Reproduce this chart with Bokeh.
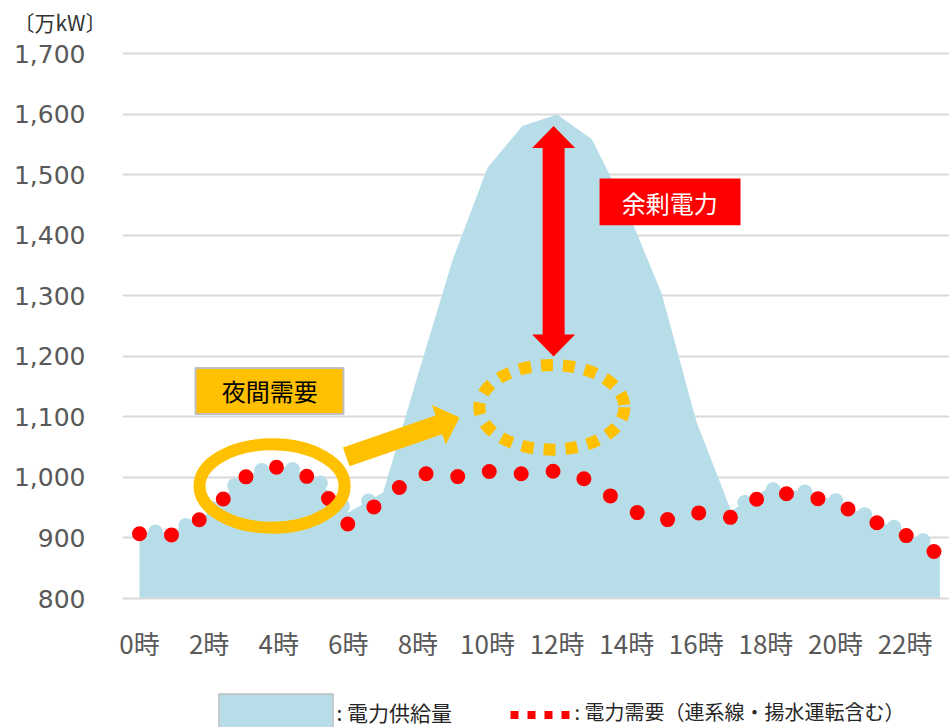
from bokeh.plotting import figure
from bokeh.models import Range1d, FixedTicker, NumeralTickFormatter
from bokeh.layouts import column
from bokeh.embed import file_html
from bokeh.resources import INLINE
from bokeh.core.properties import value

# Hourly supply / demand (万kW)
hours = list(range(24))
supply = [910, 910, 942, 1003, 1020, 1003, 942, 975, 1170, 1360, 1512, 1581,
          1600, 1559, 1444, 1305, 1093, 945, 980, 978, 962, 934, 910, 882]
demand = [907, 905, 940, 1000, 1018, 998, 922, 962, 1008, 1000, 1010, 1006,
          1011, 994, 948, 928, 942, 934, 975, 972, 958, 930, 905, 872]

y_ticks = [800, 900, 1000, 1100, 1200, 1300, 1400, 1500, 1600, 1700]
x_tick_hours = list(range(0, 24, 2))
x_tick_labels = [f"{h}時" for h in x_tick_hours]

unit_text = "〔万kW〕"
supply_name = "電力供給量"
demand_name = "電力需要（連系線・揚水運転含む）"
night_text = "夜間需要"
surplus_text = "余剰電力"

# Callout geometry (hour, 万kW)
night_oval = dict(x=3.81, y=986, w=4.17, h=138)
midday_oval = dict(x=11.85, y=1116, w=4.17, h=140)
night_box = dict(left=1.61, right=5.86, bottom=1105, top=1181, tx=3.74, ty=1143)
surplus_box = dict(left=13.22, right=17.27, bottom=1417, top=1494, tx=15.24, ty=1455)
shift_arrow = dict(tail=(5.94, 1034), tip=(9.2, 1099))
surplus_arrow = dict(x=11.9, top=1581, bottom=1200)

BLUE = "#B7DEE8"
RED = "#FF0000"
GOLD = "#FFC000"
GRID = "#D9D9D9"
TICK_TEXT = "#595959"
JP_FONT = "Noto Sans CJK JP"

# ---- frame layout
W = 949
H_MAIN = 680
FRAME_LEFT = 122
FRAME_TOP = 40
FRAME_BOTTOM = 598
PX_PER_HOUR = 34.8
PX_PER_UNIT = 0.6061
x_start = -17.0 / PX_PER_HOUR
x_end = x_start + (W - FRAME_LEFT) / PX_PER_HOUR
y_start = y_ticks[0]
y_end = y_start + (FRAME_BOTTOM - FRAME_TOP) / PX_PER_UNIT

p = figure(width=W, height=H_MAIN,
           x_range=Range1d(x_start, x_end), y_range=Range1d(y_start, y_end),
           output_backend="svg", toolbar_location=None,
           min_border_left=FRAME_LEFT, min_border_right=0,
           min_border_top=FRAME_TOP, min_border_bottom=H_MAIN - FRAME_BOTTOM)
p.outline_line_color = None
p.background_fill_color = "white"
p.border_fill_color = "white"

# unit caption in the title slot, pulled left over the value axis
p.title.text = unit_text
p.title.align = "left"
p.title.offset = -109
p.title.standoff = 9
p.title.text_font = JP_FONT
p.title.text_font_size = "21px"
p.title.text_font_style = "normal"
p.title.text_color = "#333333"

p.xgrid.visible = False
p.ygrid.ticker = FixedTicker(ticks=y_ticks)
p.ygrid.grid_line_color = GRID
p.ygrid.grid_line_width = 2

yax = p.yaxis[0]
yax.ticker = FixedTicker(ticks=y_ticks)
yax.formatter = NumeralTickFormatter(format="0,0")
yax.axis_line_color = None
yax.major_tick_line_color = None
yax.minor_tick_line_color = None
yax.major_tick_out = 0
yax.major_label_standoff = 37
yax.major_label_text_font = "DejaVu Sans"
yax.major_label_text_font_size = "25px"
yax.major_label_text_color = TICK_TEXT

xax = p.xaxis[0]
xax.ticker = FixedTicker(ticks=x_tick_hours)
xax.major_label_overrides = {h: t for h, t in zip(x_tick_hours, x_tick_labels)}
xax.axis_line_color = GRID
xax.axis_line_width = 2
xax.major_tick_line_color = None
xax.minor_tick_line_color = None
xax.major_tick_out = 0
xax.major_label_standoff = 25
xax.major_label_text_font = JP_FONT
xax.major_label_text_font_size = "26px"
xax.major_label_text_color = TICK_TEXT

# supply area
p.varea(x=hours, y1=y_ticks[0], y2=supply, fill_color=BLUE)

# the supply edge is drawn as a soft dotted outline wherever it runs close to demand
close = [abs(s - d) < 25 for s, d in zip(supply, demand)]
runs, cur = [], []
for h, ok in zip(hours, close):
    if ok:
        cur.append(h)
    elif cur:
        runs.append(cur)
        cur = []
if cur:
    runs.append(cur)
p.multi_line(xs=[r for r in runs], ys=[[supply[h] for h in r] for r in runs],
             line_color=BLUE, line_width=15, line_dash="0 32",
             line_dash_offset=16, line_cap="round", line_join="round")

# demand dotted line
p.line(hours, demand, line_color=RED, line_width=15, line_dash="0 32",
       line_cap="round", line_join="round")


def to_px(pt):
    return (pt[0] * PX_PER_HOUR, pt[1] * PX_PER_UNIT)


def to_data(pt):
    return (pt[0] / PX_PER_HOUR, pt[1] / PX_PER_UNIT)


def arrow_outline(tail, tip, shaft_w, head_w, head_len, double=False):
    """Block arrow outline, widths given in pixels, points in data units."""
    tx, ty = to_px(tail)
    hx, hy = to_px(tip)
    dx, dy = hx - tx, hy - ty
    length = (dx * dx + dy * dy) ** 0.5
    ux, uy = dx / length, dy / length
    nx, ny = -uy, ux

    def at(s, o):
        return to_data((tx + ux * s + nx * o, ty + uy * s + ny * o))

    pts = []
    if double:
        pts += [at(0, 0), at(head_len, head_w / 2), at(head_len, shaft_w / 2)]
    else:
        pts += [at(0, shaft_w / 2)]
    pts += [at(length - head_len, shaft_w / 2), at(length - head_len, head_w / 2),
            at(length, 0), at(length - head_len, -head_w / 2),
            at(length - head_len, -shaft_w / 2)]
    if double:
        pts += [at(head_len, -shaft_w / 2), at(head_len, -head_w / 2)]
    else:
        pts += [at(0, -shaft_w / 2)]
    return [q[0] for q in pts], [q[1] for q in pts]


# night-demand oval and box
p.ellipse(x=[night_oval["x"]], y=[night_oval["y"]], width=night_oval["w"],
          height=night_oval["h"], fill_color=None, line_color=GOLD, line_width=12)
p.quad(left=[night_box["left"]], right=[night_box["right"]],
       bottom=[night_box["bottom"]], top=[night_box["top"]],
       fill_color=GOLD, line_color="#BFBFBF", line_width=2)
p.text(x=[night_box["tx"]], y=[night_box["ty"]], text=[night_text],
       text_font=value(JP_FONT), text_font_size="24px", text_color="#000000",
       text_align="center", text_baseline="middle")

# arrow shifting demand to midday
ax_, ay_ = arrow_outline(shift_arrow["tail"], shift_arrow["tip"], 20, 42, 22)
p.patch(ax_, ay_, fill_color=GOLD, line_color=None)

# midday dotted oval
p.ellipse(x=[midday_oval["x"]], y=[midday_oval["y"]], width=midday_oval["w"],
          height=midday_oval["h"], fill_color=None, line_color=GOLD,
          line_width=12, line_dash="12 10")

# surplus double arrow and box
sx_, sy_ = arrow_outline((surplus_arrow["x"], surplus_arrow["bottom"]),
                         (surplus_arrow["x"], surplus_arrow["top"]),
                         22, 43, 22, double=True)
p.patch(sx_, sy_, fill_color=RED, line_color=None)
p.quad(left=[surplus_box["left"]], right=[surplus_box["right"]],
       bottom=[surplus_box["bottom"]], top=[surplus_box["top"]],
       fill_color=RED, line_color=None)
p.text(x=[surplus_box["tx"]], y=[surplus_box["ty"]], text=[surplus_text],
       text_font=value(JP_FONT), text_font_size="24px", text_color="white",
       text_align="center", text_baseline="middle")

# ---- legend strip (frame shares the main plot's horizontal extent, px units)
H_LEG = 727 - H_MAIN
leg = figure(width=W, height=H_LEG, x_range=Range1d(FRAME_LEFT, W),
             y_range=Range1d(H_LEG, 0),
             output_backend="svg", toolbar_location=None,
             min_border_left=FRAME_LEFT, min_border_right=0,
             min_border_top=0, min_border_bottom=0)
leg.axis.visible = False
leg.grid.visible = False
leg.outline_line_color = None
leg.quad(left=[218.5], right=[332.5], top=[13.5], bottom=[52],
         fill_color=BLUE, line_color="#BFBFBF", line_width=1.5)
leg.text(x=[336], y=[31], text=[": " + supply_name], text_font=value(JP_FONT),
         text_font_size="21px", text_color="#262626", text_baseline="middle")
leg.line([510, 574], [34.5, 34.5], line_color=RED, line_width=8, line_dash="8 9")
leg.text(x=[574], y=[31], text=[": " + demand_name], text_font=value(JP_FONT),
         text_font_size="20px", text_color="#262626", text_baseline="middle")

layout = column(p, leg, spacing=0)
open("out.html", "w").write(file_html(layout, INLINE))
